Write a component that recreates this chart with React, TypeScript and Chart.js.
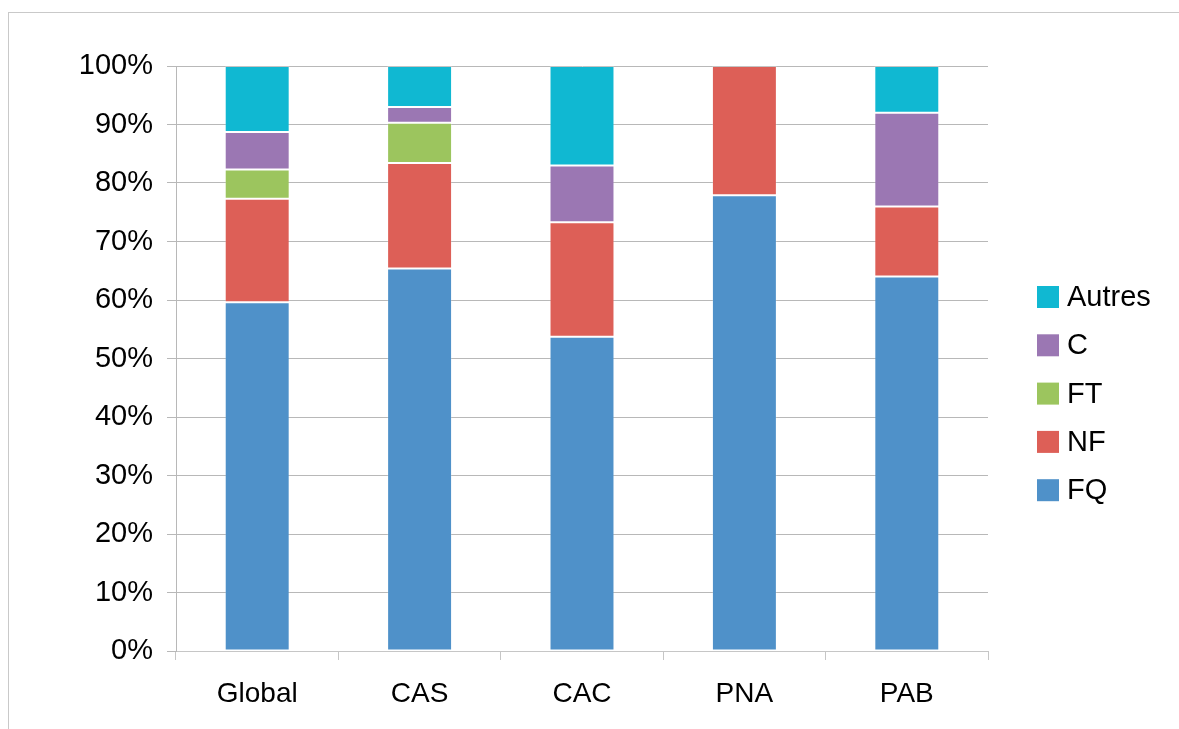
import React, { useEffect, useRef } from "react";
import { Chart, registerables } from "chart.js";

Chart.register(...registerables);

// Share of each group per population (percent, stacks sum to 100)
const categories = ["Global", "CAS", "CAC", "PNA", "PAB"];
const fqValues = [59.6, 65.4, 53.7, 77.9, 64.0];
const nfValues = [17.7, 18.0, 19.6, 22.1, 12.0];
const ftValues = [5.0, 6.9, 0, 0, 0];
const cValues = [6.4, 2.7, 9.7, 0, 16.0];
const autresValues = [11.3, 7.0, 17.0, 0, 8.0];

const seriesNames = ["FQ", "NF", "FT", "C", "Autres"];
const seriesColors = ["#4f91c9", "#dd5f57", "#9cc55e", "#9b77b3", "#10b8d2"];

const FONT = "'Liberation Sans', Arial, sans-serif";
const WIDTH = 1179;
const HEIGHT = 729;

// Legend drawn on the canvas to the right of the plot, last series on top
const sideLegend = {
  id: "sideLegend",
  afterDraw(chart: any) {
    const { ctx, chartArea } = chart;
    const items = chart.data.datasets
      .map((d: any) => ({ label: d.label, color: d.backgroundColor }))
      .reverse();
    const boxSize = 22;
    const rowGap = 48.3;
    const boxLeft = chartArea.right + 49;
    const firstRow = chartArea.top + 231;
    ctx.save();
    ctx.font = `29px ${FONT}`;
    ctx.textBaseline = "middle";
    ctx.textAlign = "left";
    items.forEach((it: any, i: number) => {
      const cy = firstRow + i * rowGap;
      ctx.fillStyle = it.color;
      ctx.fillRect(boxLeft, cy - boxSize / 2, boxSize, boxSize);
      ctx.fillStyle = "#000";
      ctx.fillText(it.label, boxLeft + 30, cy + 1);
    });
    ctx.restore();
  },
};

export default function App() {
  const canvasRef = useRef<HTMLCanvasElement | null>(null);

  useEffect(() => {
    if (!canvasRef.current) return;
    const valueSets = [fqValues, nfValues, ftValues, cValues, autresValues];
    const chart = new Chart(canvasRef.current, {
      type: "bar",
      data: {
        labels: categories,
        datasets: seriesNames.map((name, i) => ({
          label: name,
          data: valueSets[i],
          backgroundColor: seriesColors[i],
          borderColor: "rgba(255,255,255,0.18)",
          borderWidth: 1,
          borderSkipped: false,
          barPercentage: 0.4,
          categoryPercentage: 1,
        })),
      },
      options: {
        responsive: false,
        animation: false,
        devicePixelRatio: 1,
        layout: { padding: { left: 0, top: 66, right: 191, bottom: 0 } },
        plugins: {
          legend: { display: false },
          tooltip: { enabled: false },
        },
        scales: {
          x: {
            stacked: true,
            grid: {
              display: true,
              drawOnChartArea: false,
              drawTicks: true,
              tickLength: 9,
              color: "#c6c6c6",
              offset: true,
            },
            border: { display: true, color: "#c6c6c6", width: 1 },
            ticks: {
              color: "#000",
              font: { family: FONT, size: 28 },
              padding: 17,
              maxRotation: 0,
            },
            afterFit(scale: any) {
              scale.height = 78;
            },
          },
          y: {
            stacked: true,
            min: 0,
            max: 100,
            grid: {
              color: "#b8b8b8",
              tickLength: 9,
            },
            border: { display: true, color: "#b8b8b8", width: 1 },
            ticks: {
              stepSize: 10,
              color: "#000",
              font: { family: FONT, size: 29 },
              padding: 14,
              callback: (v: any) => `${v}%`,
            },
            afterFit(scale: any) {
              scale.width = 176;
            },
          },
        },
      },
      plugins: [sideLegend],
    });
    return () => chart.destroy();
  }, []);

  return (
    <div
      style={{
        position: "fixed",
        left: 0,
        top: 0,
        width: WIDTH,
        height: HEIGHT,
        background: "#fff",
        overflow: "hidden",
      }}
    >
      <div
        style={{
          position: "absolute",
          left: 8,
          top: 12,
          width: WIDTH - 8,
          height: HEIGHT - 12,
          boxSizing: "border-box",
          borderTop: "1px solid #c9c9c9",
          borderLeft: "1px solid #c9c9c9",
        }}
      />
      <canvas
        ref={canvasRef}
        width={WIDTH}
        height={HEIGHT}
        style={{ position: "absolute", left: 0, top: 0, width: WIDTH, height: HEIGHT }}
      />
    </div>
  );
}
